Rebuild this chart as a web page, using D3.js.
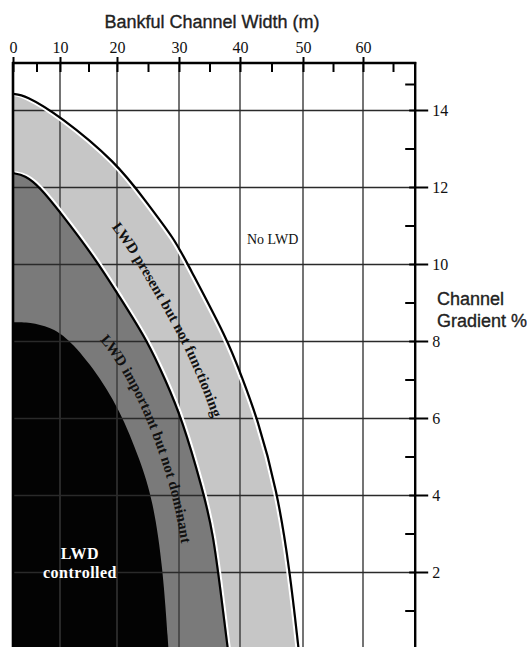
<!DOCTYPE html>
<html>
<head>
<meta charset="utf-8">
<script src="https://cdn.jsdelivr.net/npm/d3@7"></script>
<style>
  html, body { margin: 0; padding: 0; background: #fff; }
  svg { display: block; }
</style>
</head>
<body>
<svg id="chart" width="527" height="647"></svg>
<script>
// ---------- data ----------
const xTicks = [0, 10, 20, 30, 40, 50, 60];
const xMinorTicks = [5, 15, 25, 35, 45, 55, 65];
const yTicks = [2, 4, 6, 8, 10, 12, 14];
const yMinorTicks = [1, 3, 5, 7, 9, 11, 13, 15];
const xAxisTitle = "Bankful Channel Width (m)";
const yAxisTitle = ["Channel", "Gradient %"];

// boundary: LWD present but not functioning / No LWD
const outerWidth = [0, 2.5, 10, 20, 24.5, 29.4, 31.3, 38.0, 40.3, 42.7, 45.9, 47.9, 49.3];
const outerGrad  = [14.62, 14.58, 13.85, 12.62, 11.66, 10.62, 10.03, 8.03, 7.06, 6.03, 4.13, 2.05, 0];
// boundary: LWD important but not dominant / LWD present but not functioning
const midWidth = [0, 2.5, 5.7, 10, 16.0, 20.5, 24.8, 27.8, 30.5, 33.9, 35.6, 37.0, 38.0];
const midGrad  = [12.36, 12.31, 12.0, 11.35, 10.18, 9.12, 8.03, 6.99, 5.97, 4.13, 3.01, 1.27, 0];
// boundary: LWD controlled / LWD important but not dominant
const innerWidth = [0, 3.6, 7.9, 11.2, 15.8, 20.5, 23.7, 25.8, 27.4, 28.3];
const innerGrad  = [8.49, 8.49, 8.36, 8.10, 7.32, 6.21, 4.91, 3.87, 2.13, 0];

const zoneLabels = ["No LWD", "LWD present but not functioning", "LWD important but not dominant", ["LWD", "controlled"]];
const xMaxValue = 68.7;
const yMaxValue = 15.8;

// ---------- scales (scanned original has a slightly uneven axis) ----------
const x = d3.scaleLinear().domain([0, 10, 20, 30, 40, 50, 60, 70])
  .range([13, 60, 117, 179, 240, 303, 363, 423]);
const y = d3.scaleLinear().domain([0, 14, 15, yMaxValue])
  .range([649, 110, 84, 63]);

const svg = d3.select("#chart");
const serif = "'Liberation Serif', 'Times New Roman', serif";
const sans = "'Liberation Sans', Arial, sans-serif";

const toPts = (ws, gs) => ws.map((w, i) => [w, gs[i]]);
const line = d3.line().x(d => x(d[0])).y(d => y(d[1])).curve(d3.curveBasis);
const shape = pts => line(pts) + `L${x(0)},${y(0)}Z`;

const outerPts = toPts(outerWidth, outerGrad);
const midPts = toPts(midWidth, midGrad);
const innerPts = toPts(innerWidth, innerGrad);

const topY = y(yMaxValue), rightX = x(xMaxValue);

// ---------- zones ----------
const zones = svg.append("g");
zones.append("path").attr("d", shape(outerPts)).attr("fill", "#c6c6c6");
zones.append("path").attr("d", shape(midPts)).attr("fill", "#7a7a7a");
zones.append("path").attr("d", shape(innerPts)).attr("fill", "#030303");

// ---------- grid ----------
svg.append("g").selectAll(null).data(xTicks.slice(1)).enter().append("rect")
  .attr("x", d => x(d) - 0.7).attr("width", 1.4)
  .attr("y", topY).attr("height", 647 - topY)
  .attr("fill", "#3a3a3a");

const hGrid = svg.append("g").attr("transform", `translate(${x(0)},0)`)
  .call(d3.axisRight(y).tickValues(yTicks).tickSize(rightX - x(0)).tickFormat(""));
hGrid.select(".domain").remove();
hGrid.selectAll(".tick line").attr("stroke", "#2a2a2a").attr("stroke-width", 1.4);

// ---------- boundary lines ----------
svg.append("path").attr("d", line(outerPts)).attr("fill", "none")
  .attr("stroke", "#fff").attr("stroke-width", 2).attr("transform", "translate(-2,1)");
svg.append("path").attr("d", line(midPts)).attr("fill", "none")
  .attr("stroke", "#fff").attr("stroke-width", 2).attr("transform", "translate(2,-1)");
const outerPath = svg.append("path").attr("d", line(outerPts)).attr("fill", "none")
  .attr("stroke", "#000").attr("stroke-width", 2.2);
const midPath = svg.append("path").attr("d", line(midPts)).attr("fill", "none")
  .attr("stroke", "#000").attr("stroke-width", 2.2);
const innerPath = svg.append("path").attr("d", line(innerPts)).attr("fill", "none").attr("stroke", "none");

// helper: sample a path to get x at a given pixel y
function sampler(pathSel) {
  const node = pathSel.node();
  const L = node.getTotalLength();
  const pts = d3.range(0, 301).map(i => node.getPointAtLength(L * i / 300));
  return py => {
    for (let i = 1; i < pts.length; i++) {
      const a = pts[i - 1], b = pts[i];
      if ((a.y - py) * (b.y - py) <= 0 && a.y !== b.y) {
        return a.x + (b.x - a.x) * (py - a.y) / (b.y - a.y);
      }
    }
    return pts[pts.length - 1].x;
  };
}
const xOuter = sampler(outerPath), xMid = sampler(midPath), xInner = sampler(innerPath);

function guide(fA, fB, g0, g1) {
  return d3.range(0, 41).map(i => {
    const py = y(g0) + (y(g1) - y(g0)) * i / 40;
    return [(fA(py) + fB(py)) / 2, py];
  });
}
const gLine = d3.line().curve(d3.curveBasis);
const defs = svg.append("defs");
defs.append("path").attr("id", "g1").attr("d", gLine(guide(xOuter, xMid, 11.9, 5.0)));
defs.append("path").attr("id", "g2").attr("d", gLine(guide(xMid, xInner, 9.4, 0.2)));

function curvedLabel(id, txt) {
  svg.append("text").attr("font-family", serif).attr("font-weight", "bold")
    .attr("font-size", 15).attr("letter-spacing", 0.2).attr("fill", "#111").attr("dy", "0.35em")
    .append("textPath").attr("href", "#" + id).attr("startOffset", "50%")
    .attr("text-anchor", "middle").text(txt);
}
curvedLabel("g1", zoneLabels[1]);
curvedLabel("g2", zoneLabels[2]);

svg.append("text").attr("x", 247).attr("y", 244).attr("font-family", serif)
  .attr("font-size", 14).attr("fill", "#111").text(zoneLabels[0]);

svg.append("g").selectAll(null).data(zoneLabels[3]).enter().append("text")
  .attr("x", 80).attr("y", (d, i) => 559 + i * 19)
  .attr("text-anchor", "middle").attr("font-family", serif).attr("font-weight", "bold")
  .attr("font-size", 16).attr("letter-spacing", 0.5).attr("fill", "#fff").text(d => d);

// ---------- axes ----------
svg.append("line").attr("x1", x(0)).attr("x2", x(0)).attr("y1", topY - 1).attr("y2", 647)
  .attr("stroke", "#000").attr("stroke-width", 2.6);

const topAxis = svg.append("g").attr("transform", `translate(0,${topY})`)
  .call(d3.axisTop(x).tickValues(xTicks).tickSize(0).tickPadding(10));
topAxis.select(".domain").remove();
topAxis.selectAll(".tick line").attr("y1", -6).attr("y2", 9).attr("stroke", "#000").attr("stroke-width", 2);
topAxis.selectAll(".tick text").attr("font-family", serif).attr("font-size", 16).attr("fill", "#111");

const topMinor = svg.append("g").attr("transform", `translate(0,${topY})`)
  .call(d3.axisTop(x).tickValues(xMinorTicks).tickSize(-9).tickFormat(""));
topMinor.select(".domain").remove();
topMinor.selectAll(".tick line").attr("stroke", "#000").attr("stroke-width", 2);

svg.append("line").attr("x1", x(0) - 1).attr("x2", rightX + 1).attr("y1", topY).attr("y2", topY)
  .attr("stroke", "#000").attr("stroke-width", 2.4);

const rightAxis = svg.append("g").attr("transform", `translate(${rightX},0)`)
  .call(d3.axisRight(y).tickValues(yTicks).tickSize(0).tickPadding(17));
rightAxis.select(".domain").remove();
rightAxis.selectAll(".tick line").attr("x1", -6).attr("x2", 13).attr("stroke", "#000").attr("stroke-width", 2);
rightAxis.selectAll(".tick text").attr("font-family", serif).attr("font-size", 16).attr("fill", "#111");

const rightMinor = svg.append("g").attr("transform", `translate(${rightX},0)`)
  .call(d3.axisRight(y).tickValues(yMinorTicks).tickSize(-10).tickFormat(""));
rightMinor.select(".domain").remove();
rightMinor.selectAll(".tick line").attr("stroke", "#000").attr("stroke-width", 2);

svg.append("line").attr("x1", rightX).attr("x2", rightX).attr("y1", topY - 1).attr("y2", 647)
  .attr("stroke", "#000").attr("stroke-width", 2.4);

// ---------- titles ----------
svg.append("text").attr("x", 212).attr("y", 28).attr("text-anchor", "middle")
  .attr("font-family", sans).attr("font-size", 18).attr("fill", "#222")
  .attr("stroke", "#222").attr("stroke-width", 0.35).text(xAxisTitle);
svg.append("g").selectAll(null).data(yAxisTitle).enter().append("text")
  .attr("x", 437).attr("y", (d, i) => 305 + i * 22)
  .attr("font-family", sans).attr("font-size", 18).attr("fill", "#222")
  .attr("stroke", "#222").attr("stroke-width", 0.35).text(d => d);
</script>
</body>
</html>
